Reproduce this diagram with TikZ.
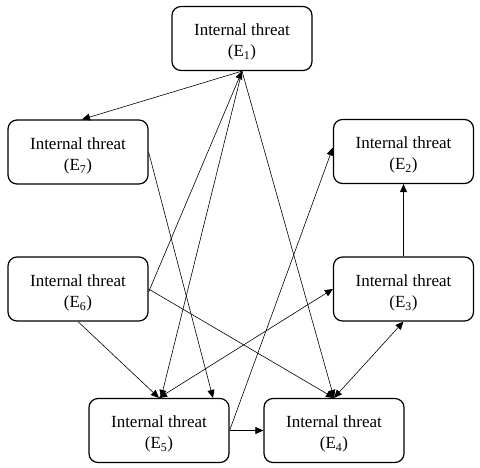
\documentclass[tikz,border=0pt]{standalone}
\usepackage{fontspec}
\setmainfont{Liberation Serif}
\usetikzlibrary{arrows.meta,calc}
\newcommand{\toppad}{\rule{0pt}{19.5pt}}
\begin{document}
\begin{tikzpicture}[x=1pt,y=-1pt,
  threatbox/.style={draw,line width=1.2pt,rounded corners=9pt,minimum width=140pt,minimum height=64pt,inner sep=0pt,align=center,font=\fontsize{17}{21}\selectfont},
  link/.style={line width=0.6pt,-{Triangle[length=8pt,width=7pt]}},
  dlink/.style={line width=0.6pt,{Triangle[length=8pt,width=7pt]}-{Triangle[length=8pt,width=7pt]}}]
\useasboundingbox (0,0) rectangle (480,467);
\node[threatbox] (E1) at (242,38.5) {\toppad Internal threat\\(E\textsubscript{1})};
\node[threatbox] (E7) at (78,152) {\toppad Internal threat\\(E\textsubscript{7})};
\node[threatbox] (E2) at (403.5,151.5) {\toppad Internal threat\\(E\textsubscript{2})};
\node[threatbox] (E6) at (78,289) {\toppad Internal threat\\(E\textsubscript{6})};
\node[threatbox] (E3) at (403.5,289) {\toppad Internal threat\\(E\textsubscript{3})};
\node[threatbox] (E5) at (159,430.5) {\toppad Internal threat\\(E\textsubscript{5})};
\node[threatbox] (E4) at (334,430.5) {\toppad Internal threat\\(E\textsubscript{4})};
\draw[link] (E1.south) -- ([xshift=4pt]E7.north);
\draw[link] ([yshift=-3pt]E6.east) -- (E1.south);
\draw[link] (E1.south) -- ([xshift=2pt]E5.north);
\draw[link] (E1.south) -- (E4.north);
\draw[link] (E7.east) -- ([xshift=54pt]E5.north);
\draw[link] (E6.south) -- (E5.north);
\draw[link] (E6.east) -- (E4.north);
\draw[dlink] (E5.north) -- (E3.west);
\draw[dlink] (E4.north) -- (E3.south);
\draw[link] (E3.north) -- (E2.south);
\draw[link] (E5.east) -- ([yshift=4pt]E2.west);
\draw[link] (E5.east) -- (E4.west);
\end{tikzpicture}
\end{document}
